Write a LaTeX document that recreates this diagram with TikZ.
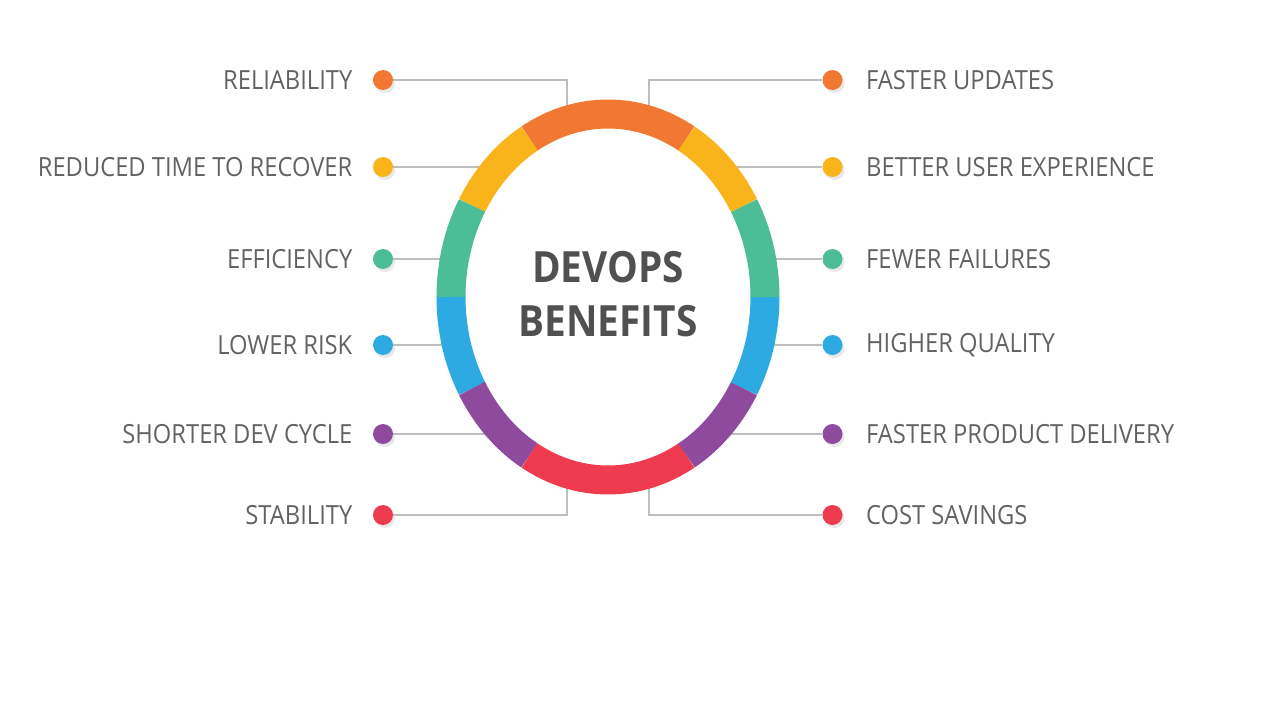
\documentclass[tikz,border=0pt]{standalone}
\usepackage{fontspec}
\setmainfont{Open Sans}[FakeStretch=0.9]
\usepackage{xcolor}
\usepackage{tikz}
\usetikzlibrary{positioning,shadows}

\definecolor{dvorange}{HTML}{F07833}
\definecolor{dvyellow}{HTML}{F9B31B}
\definecolor{dvgreen}{HTML}{4DBD98}
\definecolor{dvblue}{HTML}{2DAAE1}
\definecolor{dvpurple}{HTML}{8E4A9D}
\definecolor{dvred}{HTML}{EE3B50}
\definecolor{labelgray}{HTML}{626262}
\definecolor{titlegray}{HTML}{505050}
\definecolor{linkgray}{HTML}{BDBDBD}

\begin{document}
\begin{tikzpicture}[
    bullet/.style={circle, minimum size=0.4cm, inner sep=0pt, fill=#1,
                   drop shadow={opacity=0.18, shadow xshift=0.04cm, shadow yshift=-0.06cm}},
    lbl/.style={inner sep=0pt, font=\fontsize{15}{17}\selectfont, text=labelgray},
    link/.style={draw=linkgray, line width=0.85pt},
    seg/.style={line width=0.58cm, draw=#1}
]
\useasboundingbox (-12.16,5.94) rectangle (13.44,-8.46);

% Bullets left
\node[bullet=dvorange] (l1) at (-4.5, 4.34) {};
\node[bullet=dvyellow] (l2) at (-4.5, 2.60) {};
\node[bullet=dvgreen]  (l3) at (-4.5, 0.76) {};
\node[bullet=dvblue]   (l4) at (-4.5,-0.96) {};
\node[bullet=dvpurple] (l5) at (-4.5,-2.74) {};
\node[bullet=dvred]    (l6) at (-4.5,-4.36) {};

% Bullets right
\node[bullet=dvorange] (r1) at (4.49, 4.34) {};
\node[bullet=dvyellow] (r2) at (4.49, 2.60) {};
\node[bullet=dvgreen]  (r3) at (4.49, 0.76) {};
\node[bullet=dvblue]   (r4) at (4.49,-0.96) {};
\node[bullet=dvpurple] (r5) at (4.49,-2.74) {};
\node[bullet=dvred]    (r6) at (4.49,-4.36) {};

% Labels
\node[lbl, left=0.4cm of l1] {RELIABILITY};
\node[lbl, left=0.4cm of l2] {REDUCED TIME TO RECOVER};
\node[lbl, left=0.4cm of l3] {EFFICIENCY};
\node[lbl, left=0.4cm of l4] {LOWER RISK};
\node[lbl, left=0.4cm of l5] {SHORTER DEV CYCLE};
\node[lbl, left=0.4cm of l6] {STABILITY};
\node[lbl, right=0.46cm of r1] {FASTER UPDATES};
\node[lbl, right=0.46cm of r2] {BETTER USER EXPERIENCE};
\node[lbl, right=0.46cm of r3] {FEWER FAILURES};
\node[lbl, right=0.46cm of r4] {HIGHER QUALITY};
\node[lbl, right=0.46cm of r5] {FASTER PRODUCT DELIVERY};
\node[lbl, right=0.46cm of r6] {COST SAVINGS};

% Points on the ring
\coordinate (rl1) at (-0.82, 3.53);
\coordinate (rl2) at (-2.21, 2.60);
\coordinate (rl3) at (-3.07, 0.76);
\coordinate (rl4) at (-3.03,-0.96);
\coordinate (rl5) at (-2.08,-2.74);
\coordinate (rl6) at (-0.82,-3.53);
\coordinate (rr1) at (0.82, 3.53);
\coordinate (rr2) at (2.21, 2.60);
\coordinate (rr3) at (3.07, 0.76);
\coordinate (rr4) at (3.03,-0.96);
\coordinate (rr5) at (2.08,-2.74);
\coordinate (rr6) at (0.82,-3.53);

% Connectors (under the ring)
\draw[link] (l1) -| (rl1);
\draw[link] (l2) -- (rl2);
\draw[link] (l3) -- (rl3);
\draw[link] (l4) -- (rl4);
\draw[link] (l5) -- (rl5);
\draw[link] (l6) -| (rl6);
\draw[link] (r1) -| (rr1);
\draw[link] (r2) -- (rr2);
\draw[link] (r3) -- (rr3);
\draw[link] (r4) -- (rr4);
\draw[link] (r5) -- (rr5);
\draw[link] (r6) -| (rr6);

% Ring
\fill[white] (0,0) ellipse[x radius=3.14cm, y radius=3.66cm];
\draw[seg=dvorange] ({3.14*cos(60)},{3.66*sin(60)}) arc[start angle=60, end angle=120, x radius=3.14, y radius=3.66];
\draw[seg=dvyellow] ({3.14*cos(120)},{3.66*sin(120)}) arc[start angle=120, end angle=150, x radius=3.14, y radius=3.66];
\draw[seg=dvgreen]  ({3.14*cos(150)},{3.66*sin(150)}) arc[start angle=150, end angle=180, x radius=3.14, y radius=3.66];
\draw[seg=dvblue]   ({3.14*cos(180)},{3.66*sin(180)}) arc[start angle=180, end angle=210, x radius=3.14, y radius=3.66];
\draw[seg=dvpurple] ({3.14*cos(210)},{3.66*sin(210)}) arc[start angle=210, end angle=240, x radius=3.14, y radius=3.66];
\draw[seg=dvred]    ({3.14*cos(240)},{3.66*sin(240)}) arc[start angle=240, end angle=300, x radius=3.14, y radius=3.66];
\draw[seg=dvpurple] ({3.14*cos(300)},{3.66*sin(300)}) arc[start angle=300, end angle=330, x radius=3.14, y radius=3.66];
\draw[seg=dvblue]   ({3.14*cos(330)},{3.66*sin(330)}) arc[start angle=330, end angle=360, x radius=3.14, y radius=3.66];
\draw[seg=dvgreen]  ({3.14*cos(0)},{3.66*sin(0)}) arc[start angle=0, end angle=30, x radius=3.14, y radius=3.66];
\draw[seg=dvyellow] ({3.14*cos(30)},{3.66*sin(30)}) arc[start angle=30, end angle=60, x radius=3.14, y radius=3.66];

% Title
\node[font=\fontsize{24.5}{31}\selectfont\bfseries, text=titlegray, align=center] (title) at (0,0.06) {DEVOPS\\BENEFITS};

\end{tikzpicture}
\end{document}
